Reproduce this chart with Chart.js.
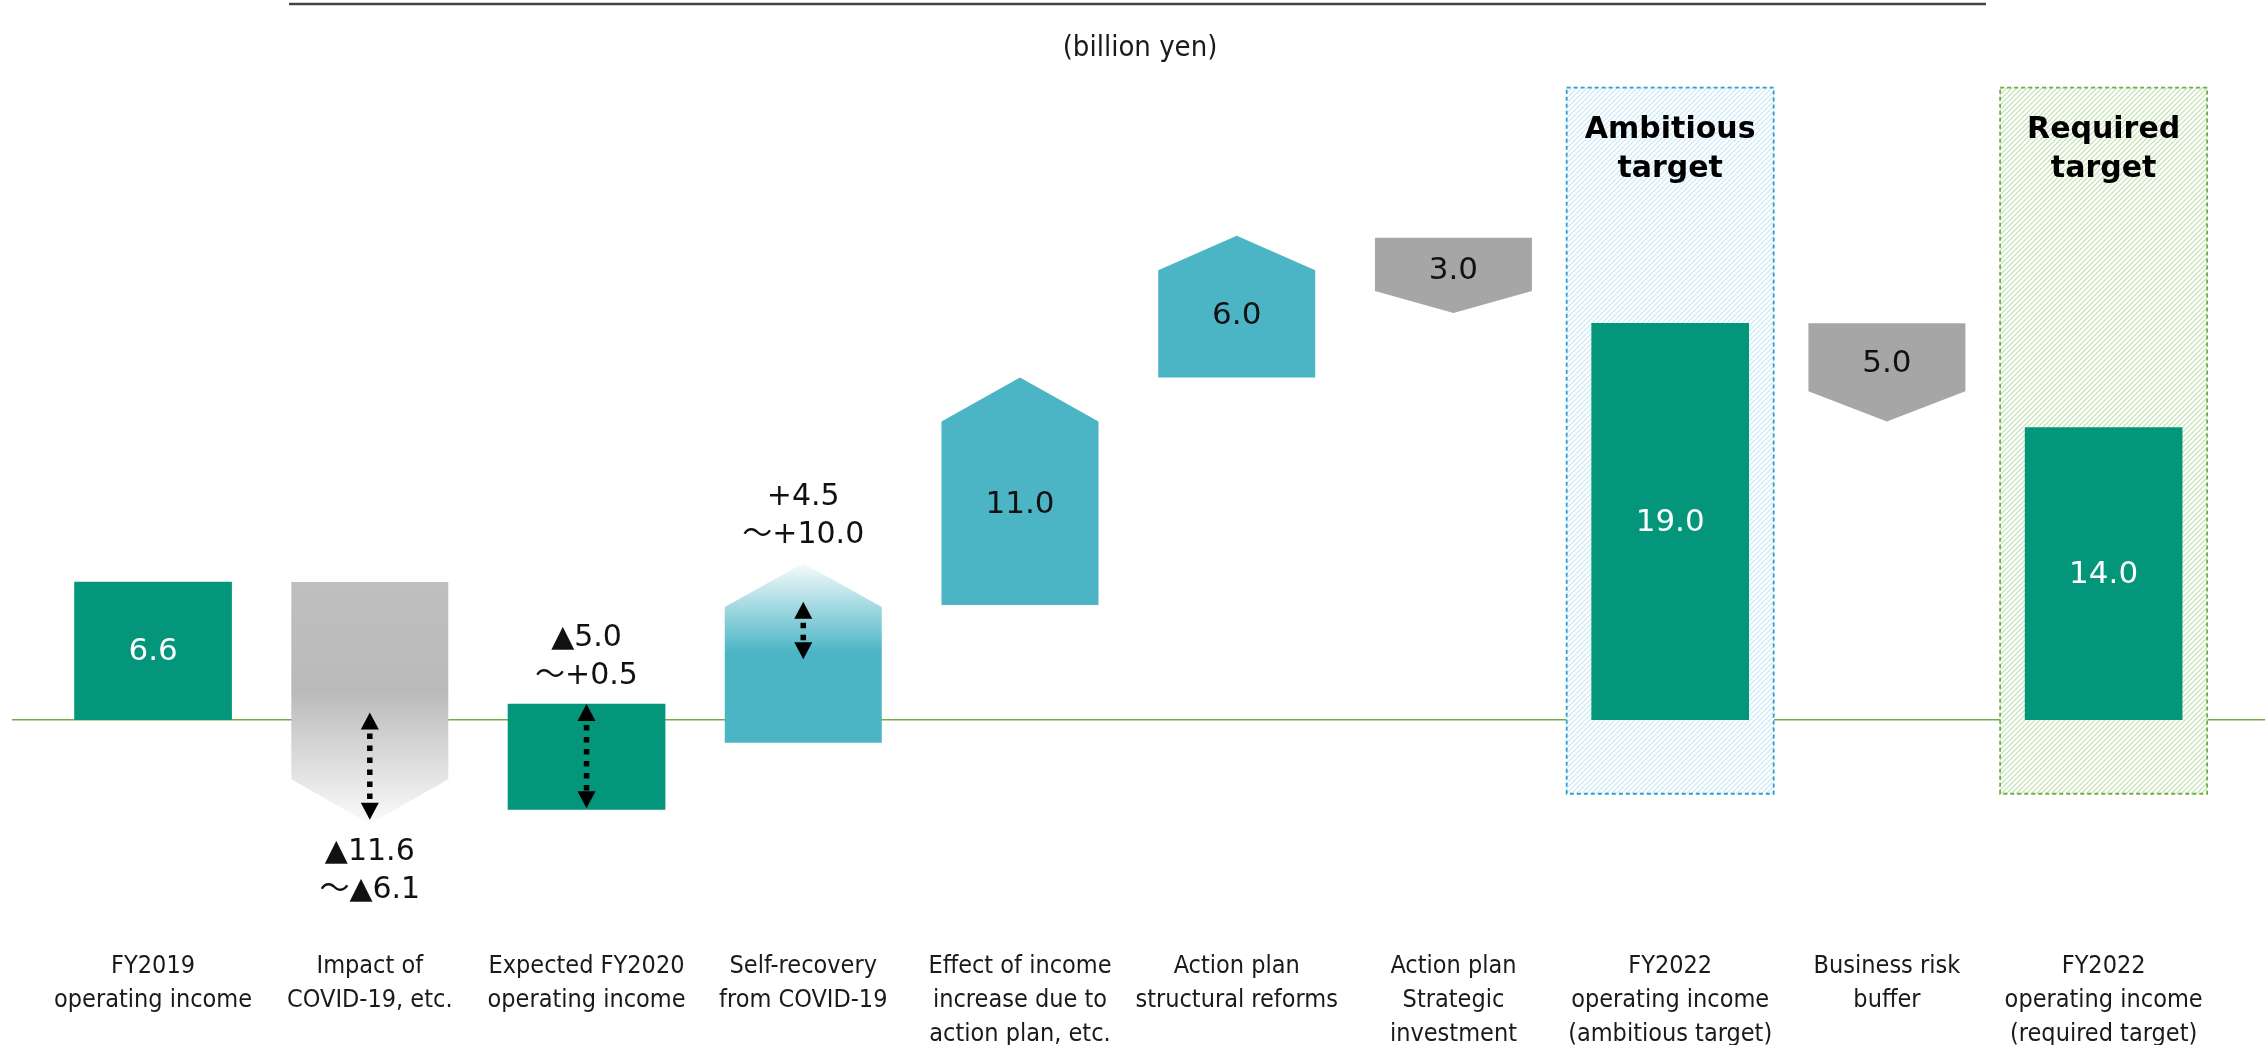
<!DOCTYPE html>
<html>
<head>
<meta charset="utf-8">
<script src="https://cdn.jsdelivr.net/npm/chart.js@4.4.0/dist/chart.umd.min.js"></script>
<style>
  html, body { margin: 0; padding: 0; background: #fff; }
  #wrap { width: 2265px; height: 1045px; }
</style>
</head>
<body>
<div id="wrap"><canvas id="chart"></canvas></div>
<script>
// categories (x axis labels, one array per line)
const categories = [
  ['FY2019', 'operating income'],
  ['Impact of', 'COVID-19, etc.'],
  ['Expected FY2020', 'operating income'],
  ['Self-recovery', 'from COVID-19'],
  ['Effect of income', 'increase due to', 'action plan, etc.'],
  ['Action plan', 'structural reforms'],
  ['Action plan', 'Strategic', 'investment'],
  ['FY2022', 'operating income', '(ambitious target)'],
  ['Business risk', 'buffer'],
  ['FY2022', 'operating income', '(required target)']
];

// floating bars [from, to] in billion yen (as drawn)
const barRanges = [[0, 6.6], [6.6, -5.0], [-4.3, 0.75], [-1.1, 7.5], [5.5, 16.4],
                   [16.4, 23.2], [23.1, 19.5], [0, 19.0], [19.0, 14.3], [0, 14.0]];
const barKinds = ['total', 'down', 'total', 'up', 'up', 'up', 'down', 'total', 'down', 'total'];
const valueLabels = ['6.6', '', '', '', '11.0', '6.0', '3.0', '19.0', '5.0', '14.0'];

// range notes
const rangeLabels = [null, ['▲11.6', '～▲6.1'], ['▲5.0', '～+0.5'], ['+4.5', '～+10.0'],
                     null, null, null, null, null, null];
const rangeArrows = [null, [0.35, -4.8], [0.75, -4.25], [5.65, 2.9],
                     null, null, null, null, null, null];

// target boxes
const targetBoxes = [null, null, null, null, null, null, null, [-3.55, 30.3], null, [-3.55, 30.3]];
const targetTitles = [null, null, null, null, null, null, null, ['Ambitious', 'target'], null, ['Required', 'target']];

// arrow point depth (in value units)
const arrowTip = [0, 2.15, 0, 2.1, 2.1, 1.65, 1.05, 0, 1.45, 0];

const GREEN = '#04967a';
const BLUE = '#4bb5c5';
const GRAY = '#a6a6a6';
const VAL_FONT = '31px "DejaVu Sans", Verdana, "Noto Sans CJK JP", sans-serif';
const LBL_FONT = '30px "DejaVu Sans", Verdana, "Noto Sans CJK JP", sans-serif';
const NARROW = '"Liberation Sans Narrow", "DejaVu Sans Condensed", "Liberation Sans", sans-serif';

const canvas = document.getElementById('chart');
const c2d = canvas.getContext('2d');

function hatch(color, gap, lw) {
  const c = document.createElement('canvas');
  c.width = gap; c.height = gap;
  const g = c.getContext('2d');
  g.fillStyle = '#fff';
  g.fillRect(0, 0, gap, gap);
  g.strokeStyle = color;
  g.lineWidth = lw;
  g.beginPath();
  g.moveTo(-1, gap + 1); g.lineTo(gap + 1, -1);
  g.moveTo(-1, 1); g.lineTo(1, -1);
  g.moveTo(gap - 1, gap + 1); g.lineTo(gap + 1, gap - 1);
  g.stroke();
  return c2d.createPattern(c, 'repeat');
}
const boxFill = [null, null, null, null, null, null, null, hatch('#c6e9f7', 5, 1.2), null, hatch('#bfe0ad', 5, 1.2)];
const boxLine = [null, null, null, null, null, null, null, '#2b9fd0', null, '#6aae45'];

function pentagon(ctx, x, w, yFlat, yPoint, tipPx) {
  const dir = yPoint < yFlat ? 1 : -1; // 1 = pointing up
  const yShoulder = yPoint + dir * tipPx;
  ctx.beginPath();
  ctx.moveTo(x - w / 2, yFlat);
  ctx.lineTo(x - w / 2, yShoulder);
  ctx.lineTo(x, yPoint);
  ctx.lineTo(x + w / 2, yShoulder);
  ctx.lineTo(x + w / 2, yFlat);
  ctx.closePath();
  ctx.fill();
  return yShoulder;
}

function rangeArrow(ctx, x, yTop, yBot) {
  const head = 17, hw = 9;
  ctx.fillStyle = '#000';
  ctx.beginPath();
  ctx.moveTo(x, yTop); ctx.lineTo(x - hw, yTop + head); ctx.lineTo(x + hw, yTop + head);
  ctx.fill();
  ctx.beginPath();
  ctx.moveTo(x, yBot); ctx.lineTo(x - hw, yBot - head); ctx.lineTo(x + hw, yBot - head);
  ctx.fill();
  ctx.strokeStyle = '#000';
  ctx.lineWidth = 5.5;
  ctx.setLineDash([5.5, 6.5]);
  ctx.beginPath();
  ctx.moveTo(x, yTop + head + 4);
  ctx.lineTo(x, yBot - head);
  ctx.stroke();
  ctx.setLineDash([]);
}

const decor = {
  id: 'decor',
  beforeDatasetsDraw(chart) {
    const ctx = chart.ctx;
    const y0 = chart.scales.y.getPixelForValue(0);
    ctx.save();
    // top rule
    ctx.strokeStyle = '#444';
    ctx.lineWidth = 2.5;
    ctx.beginPath(); ctx.moveTo(289, 4); ctx.lineTo(1986, 4); ctx.stroke();
    // unit
    ctx.fillStyle = '#1a1a1a';
    ctx.font = '29px ' + NARROW;
    ctx.textAlign = 'center';
    ctx.textBaseline = 'middle';
    ctx.fillText('(billion yen)', 1140, 48);
    // zero line
    ctx.strokeStyle = '#70ad47';
    ctx.lineWidth = 1.5;
    ctx.beginPath(); ctx.moveTo(12, y0); ctx.lineTo(chart.width, y0); ctx.stroke();
    ctx.restore();
  },
  afterDatasetsDraw(chart) {
    const ctx = chart.ctx;
    const ys = chart.scales.y;
    const pxPerUnit = ys.getPixelForValue(0) - ys.getPixelForValue(1);
    const boxMeta = chart.getDatasetMeta(0);
    const barMeta = chart.getDatasetMeta(1);
    ctx.save();

    // dashed borders and titles of the target boxes
    boxMeta.data.forEach((el, i) => {
      if (!targetBoxes[i]) return;
      const top = ys.getPixelForValue(targetBoxes[i][1]);
      const bot = ys.getPixelForValue(targetBoxes[i][0]);
      ctx.strokeStyle = boxLine[i];
      ctx.lineWidth = 1.8;
      ctx.setLineDash([4, 3]);
      ctx.strokeRect(el.x - el.width / 2, top, el.width, bot - top);
      ctx.setLineDash([]);
      ctx.fillStyle = '#000';
      ctx.font = 'bold 30px "DejaVu Sans", Verdana, sans-serif';
      ctx.textAlign = 'center';
      ctx.textBaseline = 'middle';
      targetTitles[i].forEach((t, k) => ctx.fillText(t, el.x, top + 43 + k * 39));
    });

    // arrow shaped bars
    barMeta.data.forEach((el, i) => {
      const kind = barKinds[i];
      const [from, to] = barRanges[i];
      const yFrom = ys.getPixelForValue(from);
      const yTo = ys.getPixelForValue(to);
      let labelY = (yFrom + yTo) / 2;
      if (kind !== 'total') {
        const tipPx = arrowTip[i] * pxPerUnit;
        const top = Math.min(yFrom, yTo), bot = Math.max(yFrom, yTo);
        if (i === 1) {
          const g = ctx.createLinearGradient(0, top, 0, bot);
          g.addColorStop(0, '#bfbfbf');
          g.addColorStop(0.45, '#bababa');
          g.addColorStop(1, '#fbfbfb');
          ctx.fillStyle = g;
        } else if (i === 3) {
          const g = ctx.createLinearGradient(0, top, 0, bot);
          g.addColorStop(0, '#f6fbfc');
          g.addColorStop(0.5, BLUE);
          g.addColorStop(1, BLUE);
          ctx.fillStyle = g;
        } else {
          ctx.fillStyle = kind === 'up' ? BLUE : GRAY;
        }
        const ySh = pentagon(ctx, el.x, el.width, yFrom, yTo, tipPx);
        labelY = kind === 'up' ? (yFrom + ySh) / 2 - 9 : (yFrom + ySh) / 2 + 6;
      }
      if (valueLabels[i]) {
        ctx.fillStyle = kind === 'total' ? '#fff' : '#111';
        ctx.font = VAL_FONT;
        ctx.textAlign = 'center';
        ctx.textBaseline = 'middle';
        ctx.fillText(valueLabels[i], el.x, labelY + 1);
      }
    });

    // range arrows and notes
    barMeta.data.forEach((el, i) => {
      if (rangeArrows[i]) {
        rangeArrow(ctx, el.x, ys.getPixelForValue(rangeArrows[i][0]), ys.getPixelForValue(rangeArrows[i][1]));
      }
      if (rangeLabels[i]) {
        const [from, to] = barRanges[i];
        ctx.fillStyle = '#111';
        ctx.font = LBL_FONT;
        ctx.textAlign = 'center';
        ctx.textBaseline = 'middle';
        if (barKinds[i] === 'down') {
          const y = ys.getPixelForValue(Math.min(from, to));
          rangeLabels[i].forEach((t, k) => ctx.fillText(t, el.x, y + 28 + k * 38));
        } else {
          const y = ys.getPixelForValue(Math.max(from, to));
          rangeLabels[i].forEach((t, k) => ctx.fillText(t, el.x, y - 28 - (rangeLabels[i].length - 1 - k) * 38));
        }
      }
    });
    ctx.restore();
  }
};

new Chart(canvas, {
  type: 'bar',
  data: {
    labels: categories,
    datasets: [{
      label: 'targets',
      data: targetBoxes,
      backgroundColor: boxFill,
      borderWidth: 0,
      barThickness: 207,
      grouped: false,
      order: 2
    }, {
      label: 'operating income',
      data: barRanges,
      backgroundColor: barKinds.map(k => k === 'total' ? GREEN : 'rgba(0,0,0,0)'),
      borderWidth: 0,
      barThickness: 157,
      grouped: false,
      order: 1
    }]
  },
  options: {
    responsive: true,
    maintainAspectRatio: false,
    animation: false,
    layout: { padding: { left: 41, right: 53, top: 0, bottom: 0 } },
    plugins: {
      legend: { display: false },
      tooltip: { enabled: false }
    },
    scales: {
      x: {
        grid: { display: false, drawTicks: false },
        border: { display: false },
        ticks: {
          autoSkip: false,
          maxRotation: 0,
          padding: 52,
          color: '#1a1a1a',
          font: { family: NARROW, size: 25, lineHeight: 1.36 }
        },
        afterFit(scale) { scale.height = 148; }
      },
      y: {
        display: false,
        min: -8.5,
        max: 34.5
      }
    }
  },
  plugins: [decor]
});
</script>
</body>
</html>
